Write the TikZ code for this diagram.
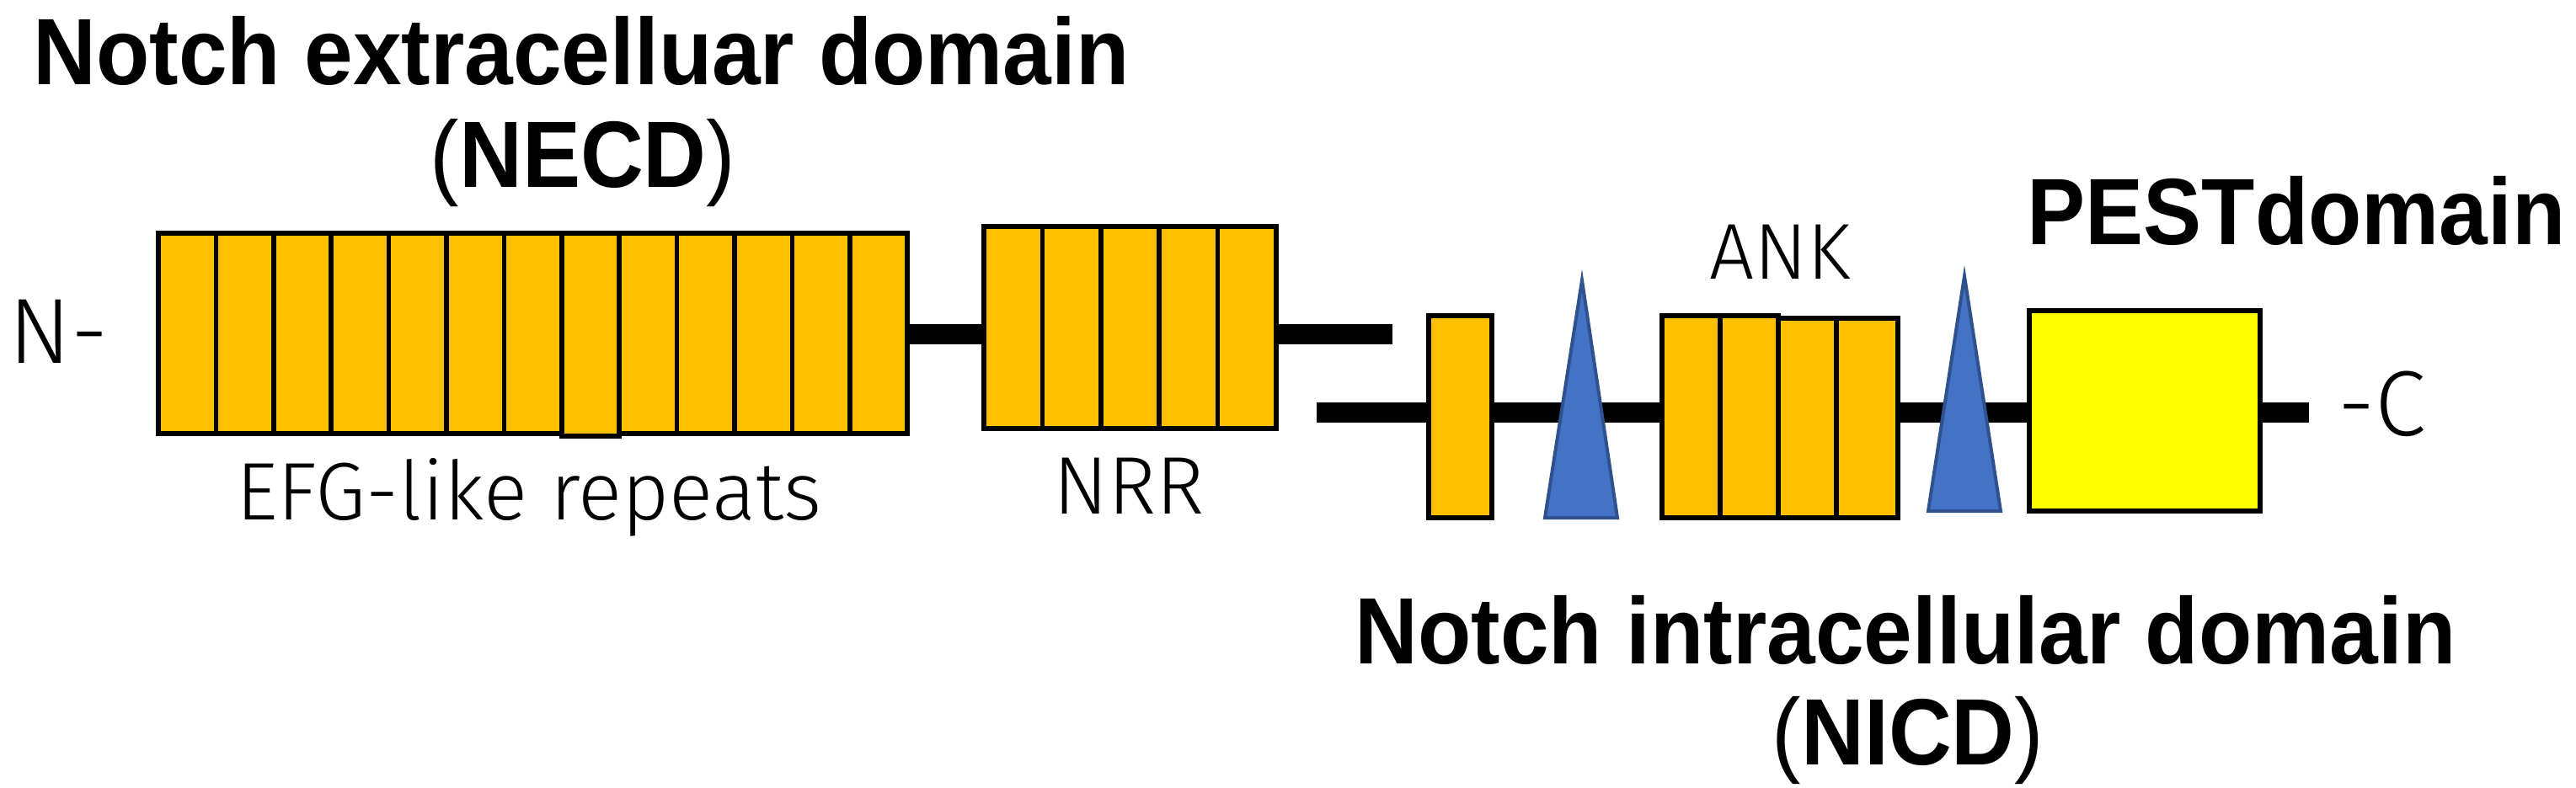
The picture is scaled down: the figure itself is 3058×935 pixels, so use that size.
\documentclass[tikz,border=0pt]{standalone}
\usepackage{fontspec}
\setmainfont{Liberation Sans}
\newfontfamily\titlefont[FakeStretch=0.925]{Liberation Sans}
\IfFontExistsTF{Fira Sans Light}{\newfontfamily\labelfont{Fira Sans Light}}{\newfontfamily\labelfont{Liberation Sans}}
\definecolor{notchorange}{HTML}{FFC000}
\definecolor{notchblue}{HTML}{4472C4}
\definecolor{triborder}{HTML}{2F528F}
\definecolor{pestyellow}{HTML}{FFFF00}
\pgfdeclarelayer{bglayer}
\pgfsetlayers{bglayer,main}
\begin{document}
\begin{tikzpicture}[x=1pt,y=-1pt,
  seg/.style={rectangle, fill=notchorange, draw=black, line width=5.5pt, inner sep=0pt, outer sep=0pt},
  pestbox/.style={rectangle, fill=pestyellow, draw=black, line width=5.5pt, inner sep=0pt, outer sep=0pt},
  backbone/.style={line width=24pt, draw=black},
  tri/.style={fill=notchblue, draw=triborder, line width=4pt, line join=miter},
  titletext/.style={inner sep=0pt, anchor=base, font=\titlefont\bfseries\fontsize{112}{134}\selectfont},
  labeltext/.style={inner sep=0pt, anchor=base, font=\labelfont\fontsize{97}{116}\selectfont},
  endtext/.style={inner sep=0pt, anchor=base, font=\labelfont\fontsize{110}{132}\selectfont}]
\begin{pgfonlayer}{bglayer}
\fill[white] (0,0) rectangle (3058,935);
\end{pgfonlayer}
\useasboundingbox (0,0) rectangle (3058,935);

% free ends of the backbone
\coordinate (cut) at (1653,397);
\coordinate (lstart) at (1563,490);
\coordinate (cend) at (2741,490);

% EGF-like repeats
\foreach \i in {1,...,13} {
  \pgfmathsetmacro\cx{188+68.4*(\i-0.5)}
  \node[seg, minimum width=68.4pt, minimum height=238pt] (egf\i) at (\cx,396) {};
}
\node[seg, minimum width=68.4pt, minimum height=241pt] (egf8b) at (701,397.5) {};
% NRR
\foreach \i in {1,...,5} {
  \pgfmathsetmacro\cx{1168+69.4*(\i-0.5)}
  \node[seg, minimum width=69.4pt, minimum height=240pt] (nrr\i) at (\cx,389) {};
}

% NICD part
\node[seg, minimum width=75pt, minimum height=240pt] (tm) at (1733.5,495) {};
\draw[tri] (1834,615) -- (1878,333) -- (1920,615) -- cycle;
\node[seg, minimum width=69pt, minimum height=240pt] (ank1) at (2007.5,495) {};
\node[seg, minimum width=69pt, minimum height=240pt] (ank2) at (2076.5,495) {};
\node[seg, minimum width=69pt, minimum height=237pt] (ank3) at (2145.5,496.5) {};
\node[seg, minimum width=73pt, minimum height=237pt] (ank4) at (2216.5,496.5) {};
\draw[tri] (2289,607) -- (2332,328) -- (2375,607) -- cycle;
\node[pestbox, minimum width=274pt, minimum height=238pt] (pest) at (2546,488) {};

% backbone lines, behind the boxes
\begin{pgfonlayer}{bglayer}
\draw[backbone] (egf13.east |- cut) -- (nrr1.west |- cut);
\draw[backbone] (nrr5.east |- cut) -- (cut);
\draw[backbone] (lstart) -- (tm.west |- lstart);
\draw[backbone] (tm.east |- lstart) -- (ank1.west |- lstart);
\draw[backbone] (ank4.east |- lstart) -- (pest.west |- lstart);
\draw[backbone] (pest.east |- lstart) -- (cend);
\end{pgfonlayer}

% texts
\node[titletext] (necd1) at (690,100) {Notch extracelluar domain};
\node[titletext] (necd2) at (692,222) {{\mdseries(}NECD{\mdseries)}};
\node[titletext] (nicd1) at (2262,788) {Notch intracellular domain};
\node[titletext] (nicd2) at (2265,908) {{\mdseries(}NICD{\mdseries)}};
\node[titletext] (pestlabel) at (2726,290) {PESTdomain};
\node[endtext] (nterm) at (70,431) {N-};
\node[endtext] (cterm) at (2828,517) {-C};
\node[labeltext] (egflabel) at (628,617) {EFG-like repeats};
\node[labeltext] (nrrlabel) at (1340,610) {NRR};
\node[labeltext, font=\labelfont\fontsize{94}{112}\selectfont] (anklabel) at (2113,331) {ANK};
\end{tikzpicture}
\end{document}
